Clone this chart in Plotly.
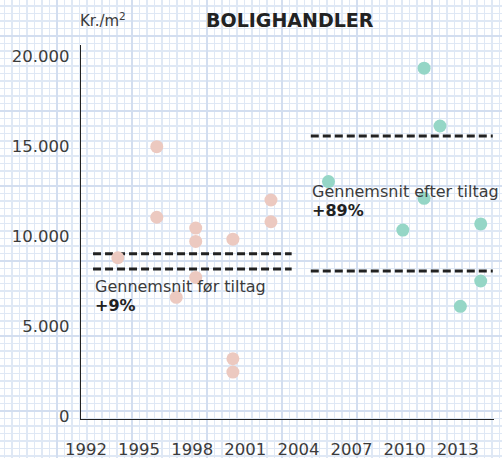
import plotly.graph_objects as go

# ---- data ----
before_years = [1993.8, 1996.0, 1996.0, 1998.2, 1998.2, 1998.2, 1997.1, 2000.3, 2000.3, 2000.3, 2002.45, 2002.45]
before_values = [8830, 15000, 11080, 10480, 9740, 7740, 6630, 9860, 3220, 2480, 12040, 10830]

after_years = [2005.7, 2011.1, 2012.0, 2011.1, 2009.9, 2014.3, 2014.3, 2013.15]
after_values = [13060, 19360, 16150, 12130, 10370, 10710, 7540, 6130]

before_avg_span = [1992.4, 2003.62]
before_avg_levels = [9050, 8200]
after_avg_span = [2004.7, 2014.98]
after_avg_levels = [15600, 8100]

x_ticks = [1992, 1995, 1998, 2001, 2004, 2007, 2010, 2013]
y_ticks = [0, 5000, 10000, 15000, 20000]

title_text = "BOLIGHANDLER"
unit_text = "Kr./m<sup>2</sup>"
before_label = "Gennemsnit før tiltag"
before_pct = "+9%"
after_label = "Gennemsnit efter tiltag"
after_pct = "+89%"

PINK = "#ecc9c0"
TEAL = "#95d6c6"
DARK = "#222222"
TXT = "#3b3b3b"
FONT = "DejaVu Sans"

W, H = 502, 458

fig = go.Figure()

# dummy trace on the background (graph paper) subplot
fig.add_trace(go.Scatter(x=[0], y=[0], mode="markers", marker=dict(opacity=0),
                         hoverinfo="skip", showlegend=False, xaxis="x", yaxis="y"))

for lvl in before_avg_levels:
    fig.add_trace(go.Scatter(x=before_avg_span, y=[lvl, lvl], mode="lines",
                             line=dict(color=DARK, width=3, dash="8px,4px"),
                             showlegend=False, hoverinfo="skip", xaxis="x2", yaxis="y2"))
for lvl in after_avg_levels:
    fig.add_trace(go.Scatter(x=after_avg_span, y=[lvl, lvl], mode="lines",
                             line=dict(color=DARK, width=3, dash="8px,4px"),
                             showlegend=False, hoverinfo="skip", xaxis="x2", yaxis="y2"))

fig.add_trace(go.Scatter(x=before_years, y=before_values, mode="markers",
                         marker=dict(color=PINK, size=13, line=dict(width=0)),
                         showlegend=False, xaxis="x2", yaxis="y2"))
fig.add_trace(go.Scatter(x=after_years, y=after_values, mode="markers",
                         marker=dict(color=TEAL, size=13, line=dict(width=0)),
                         showlegend=False, xaxis="x2", yaxis="y2"))

grid_major = "#d3def0"
grid_minor = "#dfe8f5"

fig.update_layout(
    template="none",
    width=W, height=H,
    margin=dict(l=0, r=0, t=0, b=0, pad=0),
    paper_bgcolor="white",
    plot_bgcolor="rgba(0,0,0,0)",
    separators=",.",
    showlegend=False,
    font=dict(family=FONT, size=16, color=TXT),
    xaxis=dict(domain=[0, 1], range=[0, W], showticklabels=False, zeroline=False,
               automargin=False, ticks="", showline=False,
               showgrid=True, gridcolor=grid_major, gridwidth=2.2, tick0=57, dtick=75,
               minor=dict(showgrid=True, tick0=57, dtick=7.5, gridcolor=grid_minor, gridwidth=1.2, ticks=""),
               fixedrange=True),
    yaxis=dict(domain=[0, 1], range=[H, 0], showticklabels=False, zeroline=False,
               automargin=False, ticks="", showline=False,
               showgrid=True, gridcolor=grid_major, gridwidth=2.2, tick0=36, dtick=75,
               minor=dict(showgrid=True, tick0=36, dtick=7.5, gridcolor=grid_minor, gridwidth=1.2, ticks=""),
               fixedrange=True),
    xaxis2=dict(domain=[81 / W, 494 / W], range=[1991.72, 2015.05], anchor="y2",
                automargin=False,
                showgrid=False, zeroline=False, showline=True, linecolor=DARK, linewidth=1.3,
                tickmode="array", tickvals=x_ticks, ticktext=[str(v) for v in x_ticks],
                ticks="outside", ticklen=15, tickcolor="rgba(0,0,0,0)",
                tickfont=dict(family=FONT, size=16.5, color=TXT)),
    yaxis2=dict(domain=[(H - 418.5) / H, (H - 45) / H], range=[-100, 20650], anchor="x2",
                automargin=False,
                showgrid=False, zeroline=False, showline=True, linecolor=DARK, linewidth=1.3,
                tickmode="array", tickvals=y_ticks, tickformat=",d",
                ticks="outside", ticklen=7, tickcolor="rgba(0,0,0,0)",
                tickfont=dict(family=FONT, size=16.5, color=TXT)),
)

annotations = [
    dict(text=title_text, xref="paper", yref="paper", x=290 / W, y=(H - 20) / H,
         xanchor="center", yanchor="middle", showarrow=False,
         font=dict(family=FONT, size=19, color=DARK, weight="bold")),
    dict(text=unit_text, xref="paper", yref="paper", x=78 / W, y=(H - 20) / H,
         xanchor="left", yanchor="middle", showarrow=False,
         font=dict(family=FONT, size=15, color=TXT)),
    dict(text=before_label, xref="x2", yref="y2", x=1992.4, y=7220,
         xanchor="left", yanchor="middle", showarrow=False,
         font=dict(family=FONT, size=16, color=TXT)),
    dict(text="<b>" + before_pct + "</b>", xref="x2", yref="y2", x=1992.4, y=6200,
         xanchor="left", yanchor="middle", showarrow=False,
         font=dict(family=FONT, size=16, color=DARK)),
    dict(text=after_label, xref="x2", yref="y2", x=2004.66, y=12500,
         xanchor="left", yanchor="middle", showarrow=False,
         font=dict(family=FONT, size=16, color=TXT)),
    dict(text="<b>" + after_pct + "</b>", xref="x2", yref="y2", x=2004.66, y=11480,
         xanchor="left", yanchor="middle", showarrow=False,
         font=dict(family=FONT, size=16, color=DARK)),
]
fig.update_layout(annotations=annotations)

fig.write_html("out.html",
               config={"displayModeBar": False, "staticPlot": True},
               post_script="document.body.style.margin='0';document.body.style.overflow='hidden';")
